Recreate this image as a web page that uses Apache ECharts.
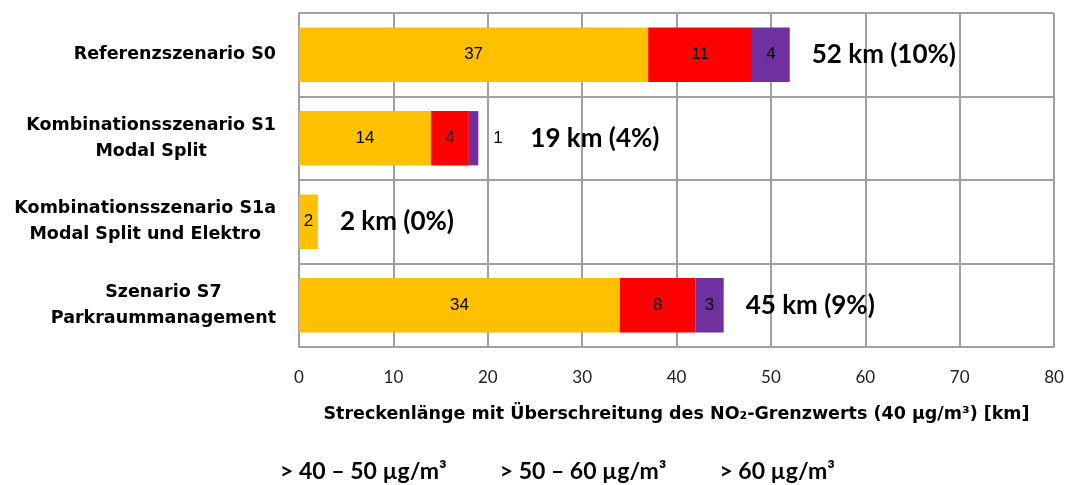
<!DOCTYPE html>
<html>
<head>
<meta charset="utf-8">
<script src="https://cdn.jsdelivr.net/npm/echarts@6/dist/echarts.min.js"></script>
<style>
  html, body { margin: 0; padding: 0; background: #fff; }
  #chart { width: 1075px; height: 485px; }
</style>
</head>
<body>
<div id="chart"></div>
<script>
const categories = [
  'Referenzszenario S0',
  'Kombinationsszenario S1\nModal Split',
  'Kombinationsszenario S1a\nModal Split und Elektro',
  'Szenario S7\nParkraummanagement'
];
const seriesNames = ['> 40 – 50 µg/m³', '> 50 – 60 µg/m³', '> 60 µg/m³'];
const band4050 = [37, 14, 2, 34];
const band5060 = [11, 4, 0, 8];
const band60 = [4, 1, 0, 3];
const totals = [52, 19, 2, 45];
const shares = ['10%', '4%', '0%', '9%'];
const xTicks = [0, 10, 20, 30, 40, 50, 60, 70, 80];

const colors = ['#FFC000', '#FF0000', '#7030A0'];
const gridColor = '#A0A0A0';
const wideBold = 'DejaVu Sans';

function segLabel(p) {
  return p.value ? String(p.value) : '';
}

function barSeries(name, data, color, outsideIdx) {
  return {
    name: name,
    type: 'bar',
    stack: 'total',
    barWidth: '65%',
    itemStyle: { color: color },
    label: {
      show: true,
      position: 'inside',
      color: '#000',
      fontFamily: 'Liberation Sans',
      fontSize: 17,
      formatter: segLabel
    },
    data: data.map((v, i) => {
      if (i === outsideIdx) {
        return { value: v, label: { position: 'right', distance: 15 } };
      }
      return v;
    })
  };
}

const chart = echarts.init(document.getElementById('chart'));
chart.setOption({
  animation: false,
  grid: { left: 299, right: 21, top: 13, bottom: 138 },
  legend: {
    data: seriesNames,
    bottom: -3,
    left: 270,
    itemWidth: 0,
    itemHeight: 0,
    itemGap: 48,
    icon: 'rect',
    textStyle: { fontFamily: 'Lato', fontWeight: 'bold', fontSize: 23, color: '#000' }
  },
  xAxis: {
    type: 'value',
    min: 0,
    max: 80,
    interval: 10,
    name: 'Streckenlänge mit Überschreitung des NO₂-Grenzwerts (40 µg/m³) [km]',
    nameLocation: 'middle',
    nameGap: 58,
    nameTextStyle: { fontFamily: wideBold, fontWeight: 'bold', fontSize: 17.5, color: '#000' },
    axisLine: { show: true, lineStyle: { color: gridColor, width: 2 } },
    axisTick: { show: false },
    axisLabel: {
      margin: 22,
      fontFamily: 'Lato',
      fontSize: 17,
      color: '#222',
      formatter: v => xTicks.includes(v) ? String(v) : ''
    },
    splitLine: { show: true, lineStyle: { color: gridColor, width: 2 } }
  },
  yAxis: {
    type: 'category',
    inverse: true,
    data: categories,
    axisLine: { show: true, lineStyle: { color: gridColor, width: 2 } },
    axisTick: { show: false },
    splitLine: { show: true, lineStyle: { color: gridColor, width: 2 } },
    axisLabel: {
      margin: 23,
      fontFamily: wideBold,
      fontWeight: 'bold',
      fontSize: 17.5,
      color: '#000',
      lineHeight: 26,
      formatter: v => v.split('\n').map(s => '{c|' + s + '}').join('\n'),
      rich: {
        c: { align: 'center', fontFamily: wideBold, fontWeight: 'bold', fontSize: 17.5, color: '#000', lineHeight: 26 }
      }
    }
  },
  series: [
    barSeries(seriesNames[0], band4050, colors[0], -1),
    barSeries(seriesNames[1], band5060, colors[1], -1),
    barSeries(seriesNames[2], band60, colors[2], 1),
    {
      name: 'Summe',
      type: 'scatter',
      symbolSize: 0,
      silent: true,
      itemStyle: { opacity: 1 },
      label: {
        show: true,
        position: 'right',
        distance: 22,
        fontFamily: 'Lato',
        fontWeight: 'bold',
        fontSize: 26,
        color: '#000',
        formatter: p => totals[p.dataIndex] + ' km (' + shares[p.dataIndex] + ')'
      },
      data: totals.map((t, i) => {
        const item = { value: [t, i] };
        if (i === 1) item.label = { distance: 52 };
        return item;
      })
    }
  ]
});
</script>
</body>
</html>
